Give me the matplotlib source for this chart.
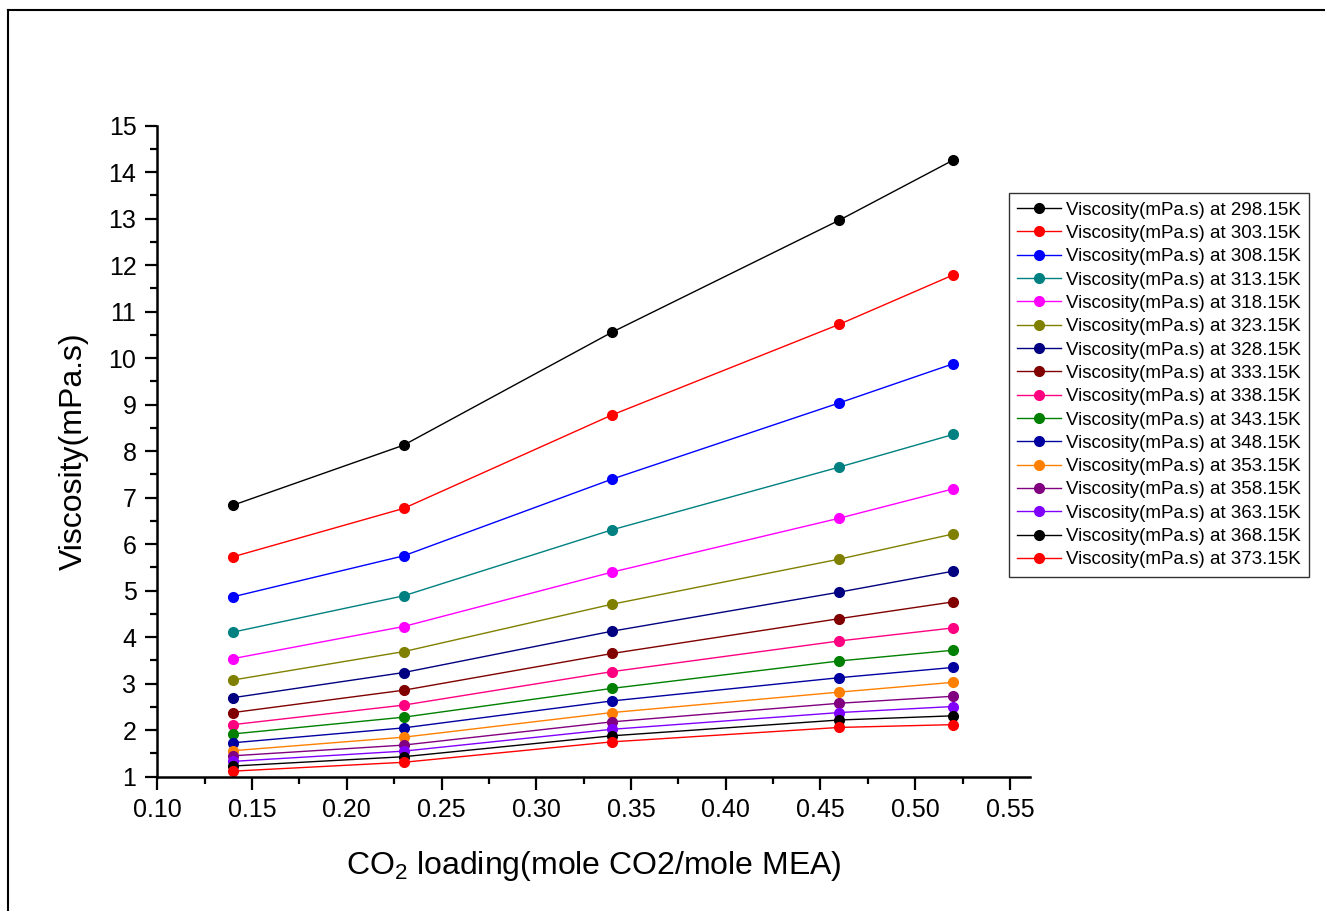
import matplotlib
matplotlib.use("Agg")
import matplotlib.pyplot as plt
from matplotlib.lines import Line2D
from matplotlib.ticker import MultipleLocator, FormatStrFormatter

plt.rcParams['font.family'] = ['Liberation Sans', 'DejaVu Sans']
plt.rcParams['mathtext.fontset'] = 'custom'
plt.rcParams['mathtext.rm'] = 'Liberation Sans'
plt.rcParams['mathtext.default'] = 'regular'

# CO2 loading (mole CO2/mole MEA)
loading = [0.14, 0.23, 0.34, 0.46, 0.52]

temps = ['298.15', '303.15', '308.15', '313.15', '318.15', '323.15', '328.15', '333.15',
         '338.15', '343.15', '348.15', '353.15', '358.15', '363.15', '368.15', '373.15']

# viscosity (mPa.s) per temperature
v298 = [6.84, 8.13, 10.56, 12.97, 14.26]
v303 = [5.73, 6.77, 8.78, 10.73, 11.79]
v308 = [4.87, 5.75, 7.40, 9.04, 9.88]
v313 = [4.11, 4.89, 6.31, 7.66, 8.36]
v318 = [3.54, 4.23, 5.40, 6.56, 7.19]
v323 = [3.08, 3.69, 4.71, 5.68, 6.22]
v328 = [2.70, 3.24, 4.13, 4.97, 5.42]
v333 = [2.38, 2.86, 3.65, 4.40, 4.76]
v338 = [2.12, 2.54, 3.26, 3.92, 4.20]
v343 = [1.92, 2.28, 2.90, 3.49, 3.72]
v348 = [1.73, 2.05, 2.63, 3.13, 3.35]
v353 = [1.56, 1.85, 2.38, 2.82, 3.03]
v358 = [1.45, 1.68, 2.18, 2.58, 2.73]
v363 = [1.33, 1.55, 2.02, 2.38, 2.51]
v368 = [1.23, 1.43, 1.88, 2.22, 2.31]
v373 = [1.12, 1.31, 1.75, 2.06, 2.12]

series = [v298, v303, v308, v313, v318, v323, v328, v333,
          v338, v343, v348, v353, v358, v363, v368, v373]

colors = ['#000000', '#FF0000', '#0000FF', '#008080', '#FF00FF', '#808000', '#000080', '#800000',
          '#FF0080', '#008000', '#0000A0', '#FF8000', '#800080', '#8000FF', '#000000', '#FF0000']

fig = plt.figure(figsize=(13.25, 9.11), dpi=100)
ax = fig.add_axes([0.1187, 0.1474, 0.6587, 0.7146])

for vals, t, c in zip(series, temps, colors):
    ax.plot(loading, vals, color=c, lw=1.0, marker='o', markersize=7,
            label='Viscosity(mPa.s) at ' + t + 'K')

ax.set_xlim(0.10, 0.5606)
ax.set_ylim(1, 15)
ax.xaxis.set_major_locator(MultipleLocator(0.05))
ax.xaxis.set_minor_locator(MultipleLocator(0.025))
ax.xaxis.set_major_formatter(FormatStrFormatter('%.2f'))
ax.yaxis.set_major_locator(MultipleLocator(1))
ax.yaxis.set_minor_locator(MultipleLocator(0.5))

for s in ['top', 'right']:
    ax.spines[s].set_visible(False)
for s in ['left', 'bottom']:
    ax.spines[s].set_linewidth(1.8)
ax.tick_params(which='major', direction='out', length=9, width=1.6, labelsize=18, pad=6)
ax.tick_params(which='minor', direction='out', length=5, width=1.6)

ax.set_xlabel('CO$_2$ loading(mole CO2/mole MEA)', fontsize=23, labelpad=20)
ax.set_ylabel('Viscosity(mPa.s)', fontsize=23, labelpad=14)

leg = ax.legend(loc='upper left', bbox_to_anchor=(0.7615, 0.788), bbox_transform=fig.transFigure,
                borderaxespad=0, fontsize=13.5, frameon=True, fancybox=False, numpoints=1,
                handlelength=2.3, handletextpad=0.3, labelspacing=0.33, borderpad=0.45)
leg.get_frame().set_edgecolor('black')
leg.get_frame().set_linewidth(1.0)

# outer frame lines of the original image
fig.add_artist(Line2D([8 / 1325, 1.0], [1 - 10 / 911] * 2, transform=fig.transFigure, color='black', lw=1.5))
fig.add_artist(Line2D([8 / 1325] * 2, [0.0, 1 - 10 / 911], transform=fig.transFigure, color='black', lw=1.5))

fig.savefig('out.png', dpi=100)
